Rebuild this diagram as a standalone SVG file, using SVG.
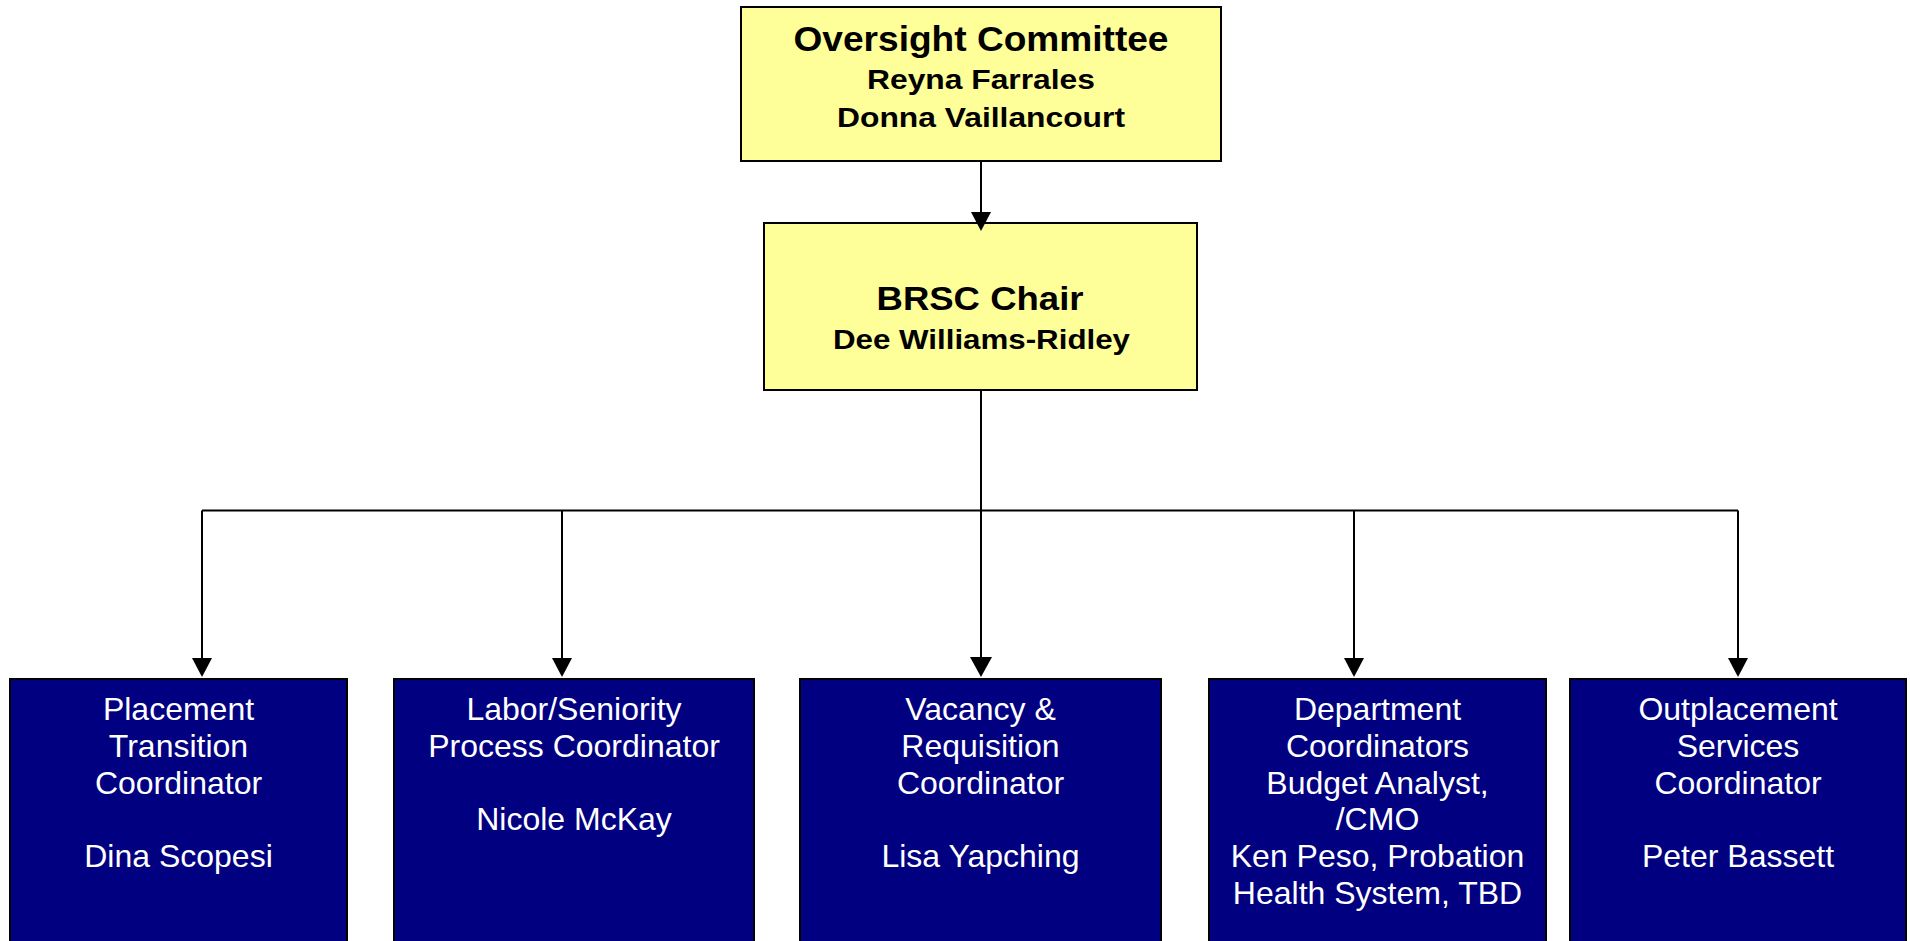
<svg xmlns="http://www.w3.org/2000/svg" width="1910" height="941" viewBox="0 0 1910 941">
<style>
.y{fill:#FFFF99;stroke:#000;stroke-width:2}
.b{fill:#000080;stroke:#000;stroke-width:2}
.tb{font-family:"Liberation Sans",Arial,sans-serif;font-weight:bold;fill:#000;text-anchor:middle}
.tw{font-family:"Liberation Sans",Arial,sans-serif;font-size:32px;fill:#fff;text-anchor:middle}
.c{stroke:#000;stroke-width:2;fill:none}
</style>
<defs>
<marker id="ah" markerUnits="userSpaceOnUse" markerWidth="20" markerHeight="20" refX="17" refY="10" orient="auto">
<path d="M0,0 L19,10 L0,20 z" fill="#000"/>
</marker>
<marker id="ahb" markerUnits="userSpaceOnUse" markerWidth="22" markerHeight="22" refX="18" refY="11" orient="auto">
<path d="M0,0 L20,11 L0,22 z" fill="#000"/>
</marker>
</defs>
<g id="node-oversight">
<rect class="y" x="741" y="7" width="480" height="154"/>
<text class="tb" x="981" y="50.5" font-size="35" textLength="375" lengthAdjust="spacingAndGlyphs">Oversight Committee</text>
<text class="tb" x="981" y="89" font-size="28" textLength="228" lengthAdjust="spacingAndGlyphs">Reyna Farrales</text>
<text class="tb" x="981" y="126.5" font-size="28" textLength="288" lengthAdjust="spacingAndGlyphs">Donna Vaillancourt</text>
</g>
<g id="node-brsc">
<rect class="y" x="764" y="223" width="433" height="167"/>
<text class="tb" x="980" y="309.5" font-size="33" textLength="207" lengthAdjust="spacingAndGlyphs">BRSC Chair</text>
<text class="tb" x="981.5" y="349" font-size="27.5" textLength="297" lengthAdjust="spacingAndGlyphs">Dee Williams-Ridley</text>
</g>
<g id="node-placement">
<rect class="b" x="10" y="679" width="337" height="270"/>
<text class="tw" x="178.5" y="720">Placement</text>
<text class="tw" x="178.5" y="757">Transition</text>
<text class="tw" x="178.5" y="793.5">Coordinator</text>
<text class="tw" x="178.5" y="867">Dina Scopesi</text>
</g>
<g id="node-labor">
<rect class="b" x="394" y="679" width="360" height="270"/>
<text class="tw" x="574" y="720">Labor/Seniority</text>
<text class="tw" x="574" y="757">Process Coordinator</text>
<text class="tw" x="574" y="830">Nicole McKay</text>
</g>
<g id="node-vacancy">
<rect class="b" x="800" y="679" width="361" height="270"/>
<text class="tw" x="980.5" y="720">Vacancy &amp;</text>
<text class="tw" x="980.5" y="757">Requisition</text>
<text class="tw" x="980.5" y="793.5">Coordinator</text>
<text class="tw" x="980.5" y="867">Lisa Yapching</text>
</g>
<g id="node-department">
<rect class="b" x="1209" y="679" width="337" height="270"/>
<text class="tw" x="1377.5" y="720">Department</text>
<text class="tw" x="1377.5" y="757">Coordinators</text>
<text class="tw" x="1377.5" y="793.5">Budget Analyst,</text>
<text class="tw" x="1377.5" y="830">/CMO</text>
<text class="tw" x="1377.5" y="867">Ken Peso, Probation</text>
<text class="tw" x="1377.5" y="903.5">Health System, TBD</text>
</g>
<g id="node-outplacement">
<rect class="b" x="1570" y="679" width="336" height="270"/>
<text class="tw" x="1738" y="720">Outplacement</text>
<text class="tw" x="1738" y="757">Services</text>
<text class="tw" x="1738" y="793.5">Coordinator</text>
<text class="tw" x="1738" y="867">Peter Bassett</text>
</g>
<g id="connectors">
<line class="c" x1="981" y1="161" x2="981" y2="229" marker-end="url(#ah)"/>
<line class="c" x1="981" y1="390" x2="981" y2="510.5"/>
<line class="c" x1="202" y1="510.5" x2="1738" y2="510.5"/>
<line class="c" x1="202" y1="510.5" x2="202" y2="675" marker-end="url(#ah)"/>
<line class="c" x1="562" y1="510.5" x2="562" y2="675" marker-end="url(#ah)"/>
<line class="c" x1="981" y1="510.5" x2="981" y2="675" stroke-width="2.6" marker-end="url(#ahb)"/>
<line class="c" x1="1354" y1="510.5" x2="1354" y2="675" marker-end="url(#ah)"/>
<line class="c" x1="1738" y1="510.5" x2="1738" y2="675" marker-end="url(#ah)"/>
</g>
</svg>
